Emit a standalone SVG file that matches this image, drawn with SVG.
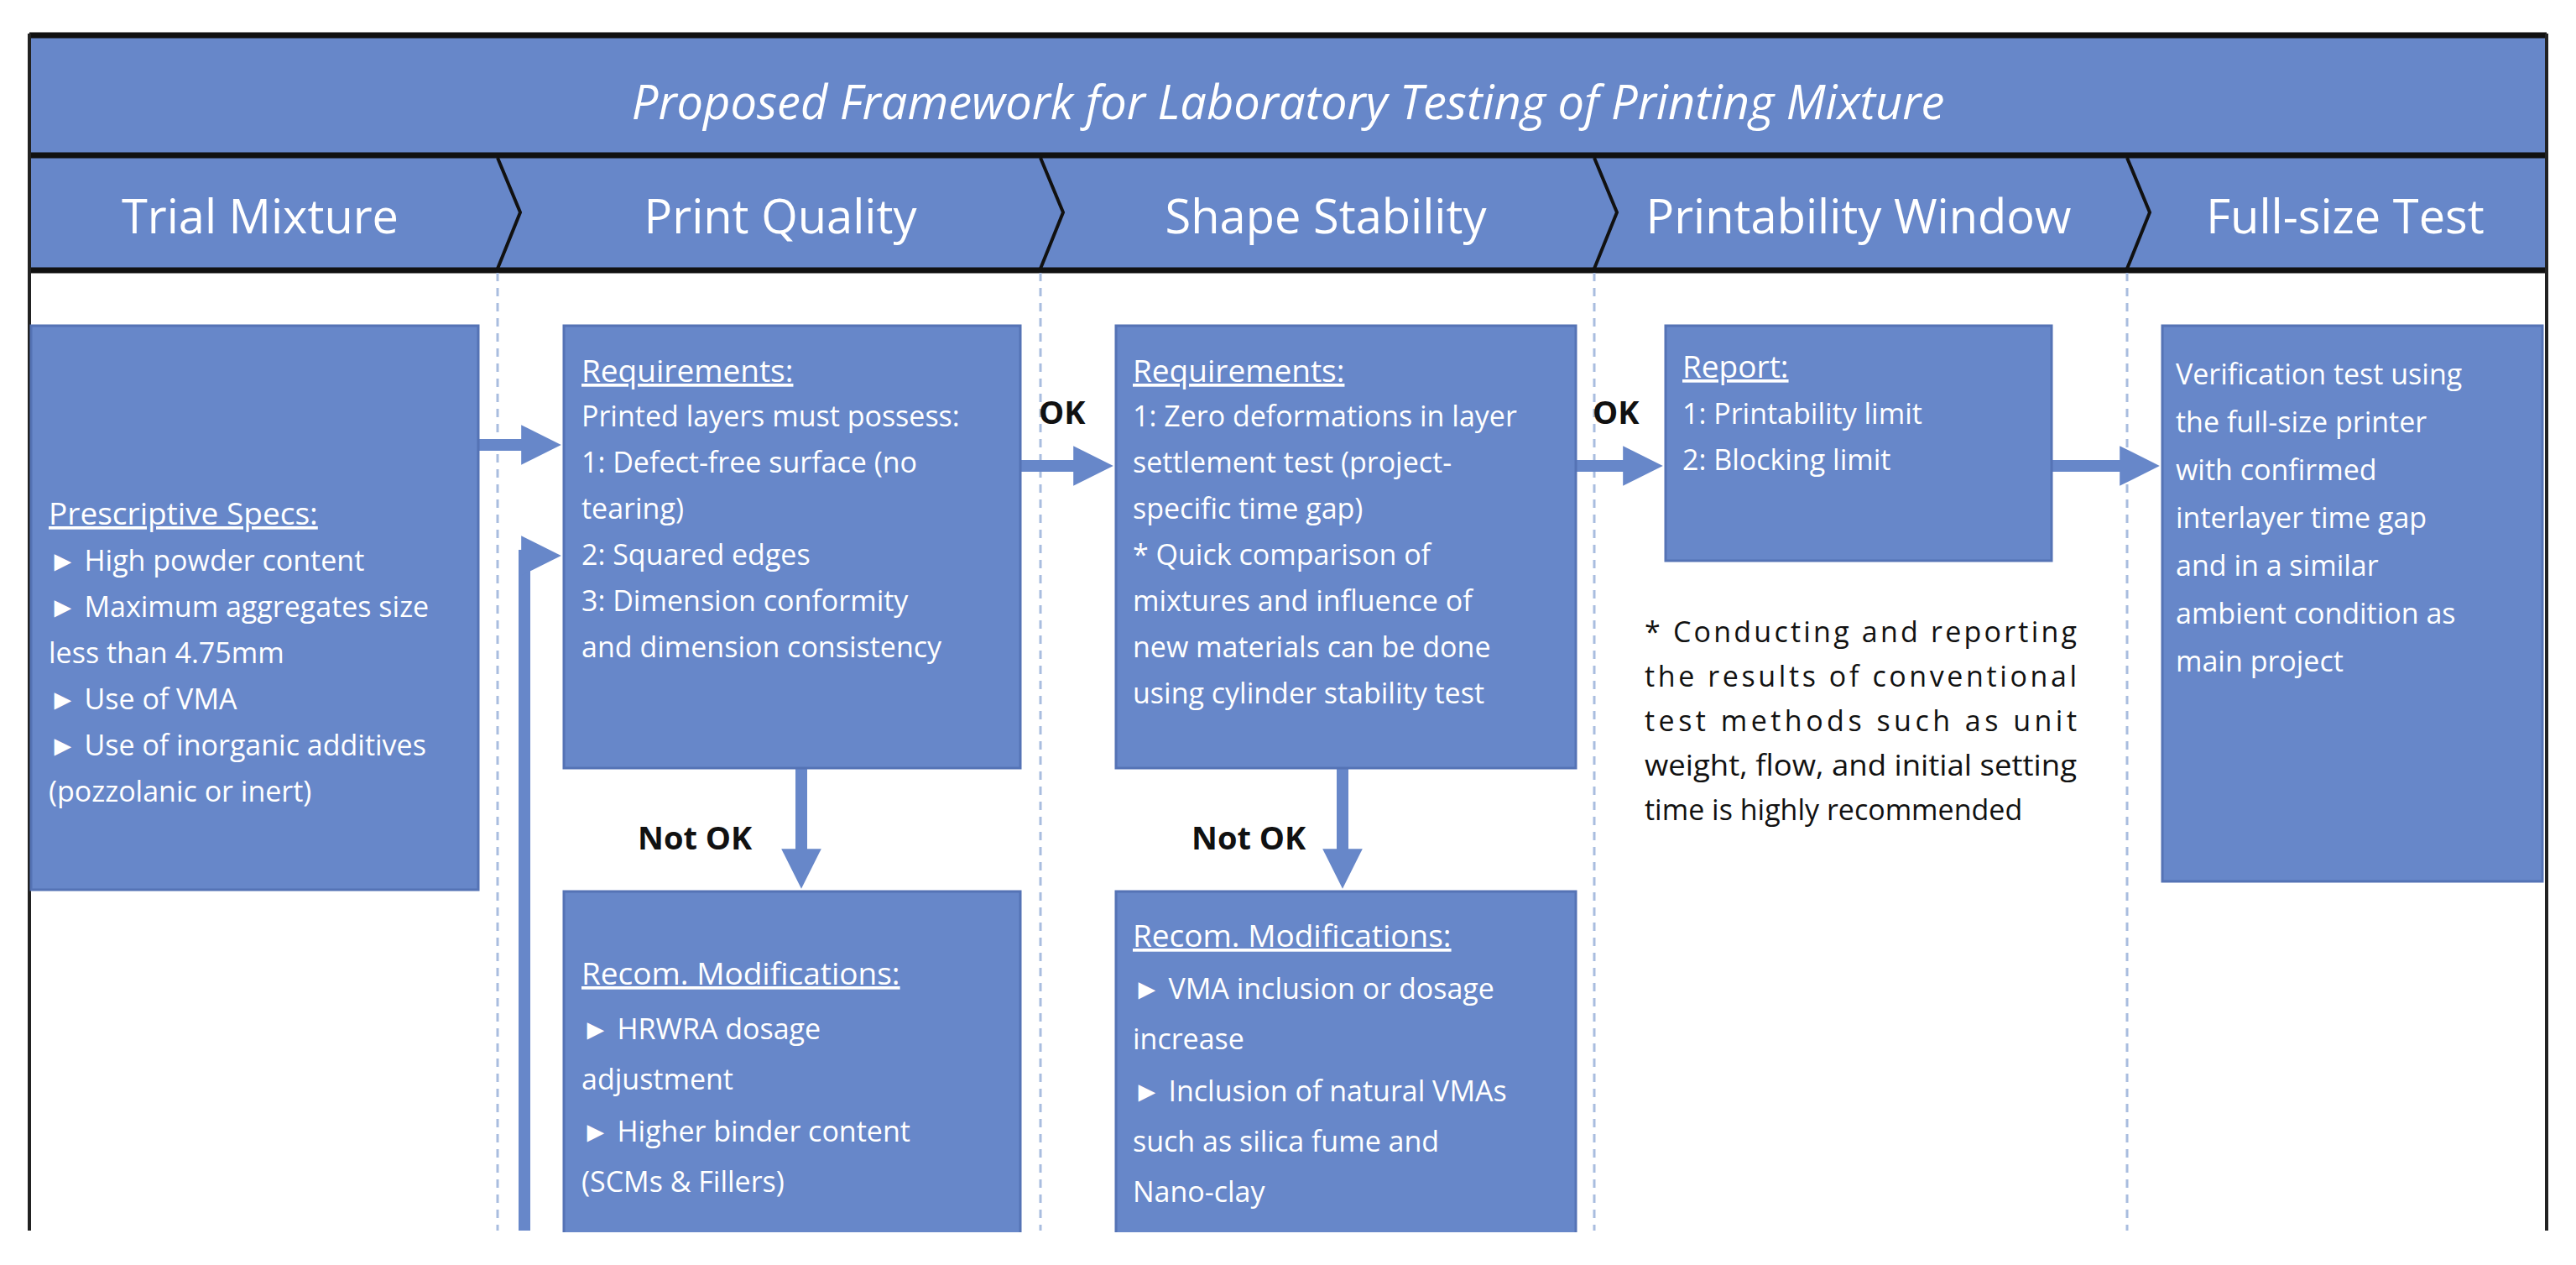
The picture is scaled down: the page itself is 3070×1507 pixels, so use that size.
<svg xmlns="http://www.w3.org/2000/svg" width="3070" height="1507" viewBox="0 0 3070 1507">
<style>
.b{fill:#6787c9;stroke:#5573b5;stroke-width:3}
.t{font-family:"Open Sans","Liberation Sans",sans-serif;fill:#fff;font-size:34px}
.h{font-family:"Open Sans","Liberation Sans",sans-serif;fill:#fff;font-size:56px}
.u{text-decoration:underline;font-size:37px}
.k{font-family:"Open Sans","Liberation Sans",sans-serif;fill:#111;font-size:38px;font-weight:bold}
.n{font-family:"Open Sans","Liberation Sans",sans-serif;fill:#111;font-size:34px}
.d{stroke:#a9bddf;stroke-width:3;stroke-dasharray:10,8}
.a{stroke:#6787c9;stroke-width:14;fill:none}
</style>
<defs><marker id="m" markerWidth="3.4" markerHeight="3.4" refX="1.7" refY="1.7" orient="auto"><path d="M0,0L3.4,1.7L0,3.4Z" fill="#6787c9"/></marker></defs>
<rect width="3070" height="1507" fill="#fff"/>
<g id="header">
<rect x="35" y="40" width="3000" height="282" fill="#6787c9"/>
<line x1="35" y1="42" x2="3035" y2="42" stroke="#111" stroke-width="7"/>
<line x1="35" y1="185" x2="3035" y2="185" stroke="#111" stroke-width="7"/>
<line x1="35" y1="322" x2="3035" y2="322" stroke="#111" stroke-width="7"/>
<line x1="35" y1="40" x2="35" y2="1466" stroke="#222" stroke-width="4"/>
<line x1="3035" y1="40" x2="3035" y2="1466" stroke="#222" stroke-width="4"/>
<text class="h" x="1535" y="142" text-anchor="middle" font-style="italic" font-size="62">Proposed Framework for Laboratory Testing of Printing Mixture</text>
<g fill="none" stroke="#111" stroke-width="4">
<path d="M593,188L620,253L593,320"/><path d="M1240,188L1267,253L1240,320"/><path d="M1900,188L1927,253L1900,320"/><path d="M2535,188L2562,253L2535,320"/>
</g>
<text class="h" x="310" y="278" text-anchor="middle">Trial Mixture</text>
<text class="h" x="930" y="278" text-anchor="middle">Print Quality</text>
<text class="h" x="1580" y="278" text-anchor="middle">Shape Stability</text>
<text class="h" x="2215" y="278" text-anchor="middle">Printability Window</text>
<text class="h" x="2795" y="278" text-anchor="middle">Full-size Test</text>
</g>
<g id="dividers">
<line class="d" x1="593" y1="325" x2="593" y2="1466"/><line class="d" x1="1240" y1="325" x2="1240" y2="1466"/><line class="d" x1="1900" y1="325" x2="1900" y2="1466"/><line class="d" x1="2535" y1="325" x2="2535" y2="1466"/>
</g>
<g id="connectors">
<line class="a" x1="570" y1="530" x2="645" y2="530" marker-end="url(#m)"/>
<path class="a" d="M625,1466V662H645" marker-end="url(#m)"/>
<line class="a" x1="1216" y1="555" x2="1303" y2="555" marker-end="url(#m)"/>
<line class="a" x1="1878" y1="555" x2="1958" y2="555" marker-end="url(#m)"/>
<line class="a" x1="2445" y1="555" x2="2550" y2="555" marker-end="url(#m)"/>
<line class="a" x1="955" y1="915" x2="955" y2="1035" marker-end="url(#m)"/>
<line class="a" x1="1600" y1="915" x2="1600" y2="1035" marker-end="url(#m)"/>
<text class="k" x="1238" y="505">OK</text>
<text class="k" x="1898" y="505">OK</text>
<text class="k" x="760" y="1012">Not OK</text>
<text class="k" x="1420" y="1012">Not OK</text>
</g>
<g id="trial"><rect class="b" x="37" y="388" width="533" height="672"/>
<text class="t"><tspan class="u" x="58" y="625">Prescriptive Specs:</tspan><tspan x="58" y="680">► High powder content</tspan><tspan x="58" y="735">► Maximum aggregates size</tspan><tspan x="58" y="790">less than 4.75mm</tspan><tspan x="58" y="845">► Use of VMA</tspan><tspan x="58" y="900">► Use of inorganic additives</tspan><tspan x="58" y="955">(pozzolanic or inert)</tspan></text></g>
<g id="pq-req"><rect class="b" x="672" y="388" width="544" height="527"/>
<text class="t"><tspan class="u" x="693" y="455">Requirements:</tspan><tspan x="693" y="508">Printed layers must possess:</tspan><tspan x="693" y="563">1: Defect-free surface (no</tspan><tspan x="693" y="618">tearing)</tspan><tspan x="693" y="673">2: Squared edges</tspan><tspan x="693" y="728">3: Dimension conformity</tspan><tspan x="693" y="783">and dimension consistency</tspan></text></g>
<g id="pq-mod"><rect class="b" x="672" y="1062" width="544" height="420"/>
<text class="t"><tspan class="u" x="693" y="1173">Recom. Modifications:</tspan><tspan x="693" y="1238">► HRWRA dosage</tspan><tspan x="693" y="1298">adjustment</tspan><tspan x="693" y="1360">► Higher binder content</tspan><tspan x="693" y="1420">(SCMs &amp; Fillers)</tspan></text></g>
<g id="ss-req"><rect class="b" x="1330" y="388" width="548" height="527"/>
<text class="t"><tspan class="u" x="1350" y="455">Requirements:</tspan><tspan x="1350" y="508">1: Zero deformations in layer</tspan><tspan x="1350" y="563">settlement test (project-</tspan><tspan x="1350" y="618">specific time gap)</tspan><tspan x="1350" y="673">* Quick comparison of</tspan><tspan x="1350" y="728">mixtures and influence of</tspan><tspan x="1350" y="783">new materials can be done</tspan><tspan x="1350" y="838">using cylinder stability test</tspan></text></g>
<g id="ss-mod"><rect class="b" x="1330" y="1062" width="548" height="420"/>
<text class="t"><tspan class="u" x="1350" y="1128">Recom. Modifications:</tspan><tspan x="1350" y="1190">► VMA inclusion or dosage</tspan><tspan x="1350" y="1250">increase</tspan><tspan x="1350" y="1312">► Inclusion of natural VMAs</tspan><tspan x="1350" y="1372">such as silica fume and</tspan><tspan x="1350" y="1432">Nano-clay</tspan></text></g>
<g id="report"><rect class="b" x="1985" y="388" width="460" height="280"/>
<text class="t"><tspan class="u" x="2005" y="450">Report:</tspan><tspan x="2005" y="505">1: Printability limit</tspan><tspan x="2005" y="560">2: Blocking limit</tspan></text></g>
<g id="note">
<text class="n" x="1960" y="765" textLength="515" lengthAdjust="spacing">* Conducting and reporting</text>
<text class="n" x="1960" y="818" textLength="515" lengthAdjust="spacing">the results of conventional</text>
<text class="n" x="1960" y="871" textLength="515" lengthAdjust="spacing">test methods such as unit</text>
<text class="n" x="1960" y="924" textLength="515" lengthAdjust="spacingAndGlyphs">weight, flow, and initial setting</text>
<text class="n" x="1960" y="977">time is highly recommended</text>
</g>
<g id="full"><rect class="b" x="2577" y="388" width="453" height="662"/>
<text class="t" font-size="39"><tspan x="2593" y="458">Verification test using</tspan><tspan x="2593" y="515">the full-size printer</tspan><tspan x="2593" y="572">with confirmed</tspan><tspan x="2593" y="629">interlayer time gap</tspan><tspan x="2593" y="686">and in a similar</tspan><tspan x="2593" y="743">ambient condition as</tspan><tspan x="2593" y="800">main project</tspan></text></g>
<rect x="0" y="1468" width="3070" height="39" fill="#fff"/>
</svg>
